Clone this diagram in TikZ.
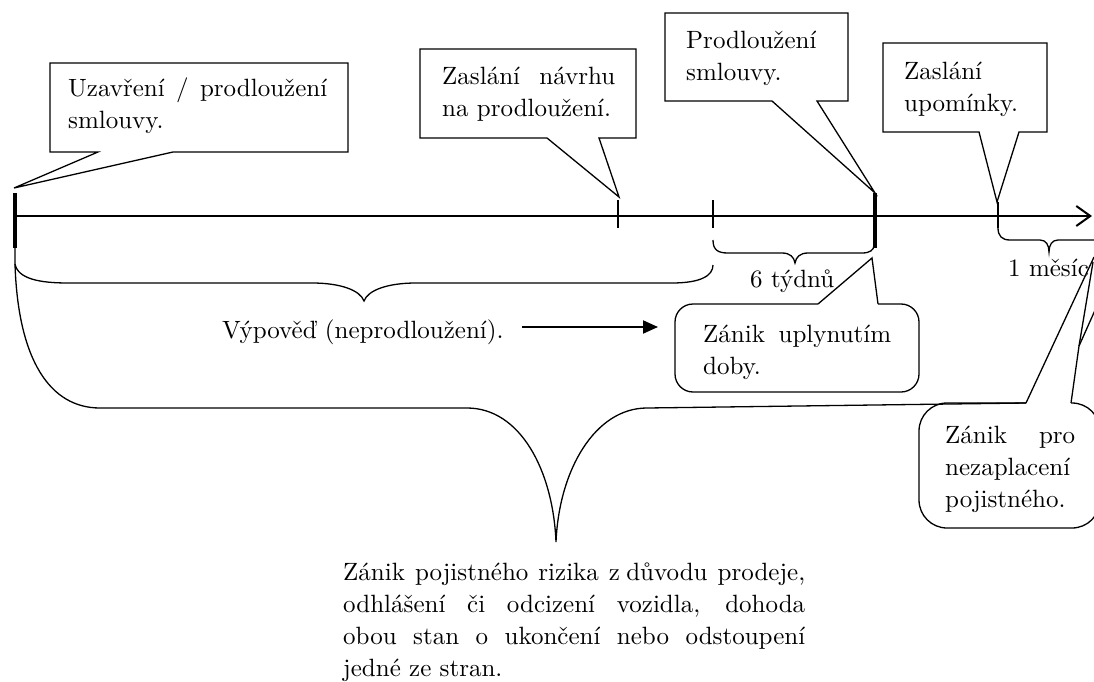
\documentclass[tikz,border=0pt]{standalone}
\usepackage{fontspec}
\setmainfont{lmroman10-regular}[Extension=.otf]
\usetikzlibrary{arrows.meta}
\hyphenpenalty=10000
\exhyphenpenalty=10000
\tolerance=9999
\emergencystretch=40pt
\hbadness=10000
\begin{document}
\begin{tikzpicture}[x=1pt,y=-1pt,
  txtfont/.style={font=\fontsize{25}{32}\selectfont},
  jtxt/.style={txtfont, anchor=base west, inner sep=0pt, align=justify},
  ptxt/.style={txtfont, anchor=base west, inner sep=0pt},
  callout/.style={draw=black, line width=1.3pt, line join=miter},
  brace/.style={draw=black, line width=1.3pt},
  thicktick/.style={line width=3.5pt},
  thintick/.style={line width=1.5pt},
  timeline/.style={line width=2pt, -{Straight Barb[length=14pt,width=20pt]}},
  arr/.style={line width=2pt, -{Triangle[length=15pt,width=13pt]}}
]
\useasboundingbox (0,0) rectangle (1094,682);
\clip (0,0) rectangle (1094,682);

% timeline
\coordinate (tlStart) at (15,216);
\coordinate (tlEnd) at (1092,216);
\draw[timeline] (tlStart) -- (tlEnd);
\draw[thicktick] (15,193) -- (15,248);
\draw[thicktick] (875,193) -- (875,248);
\draw[thintick] (618,200) -- (618,228);
\draw[thintick] (713,200) -- (713,228);
\draw[thintick] (998,202) -- (998,228);

% callout outlines (rectangular)
\draw[callout] (50,63) -- (348,63) -- (348,152) -- (173,152) -- (14,188) -- (98,152) -- (50,152) -- cycle;
\draw[callout] (420,49) -- (636,49) -- (636,138) -- (599,138) -- (619,197) -- (547,138) -- (420,138) -- cycle;
\draw[callout] (665,13) -- (848,13) -- (848,101) -- (817,101) -- (875,193) -- (772,101) -- (665,101) -- cycle;
\draw[callout] (883,43) -- (1047,43) -- (1047,132) -- (1019,132) -- (997,202) -- (979,132) -- (883,132) -- cycle;

% rounded callout: Zanik uplynutim doby
\draw[callout, rounded corners=18pt] (878,304) -- (919,304) -- (919,392) -- (675,392) -- (675,304) -- (818,304);
\draw[callout] (818,304) -- (872,258) -- (878,304);

% rounded callout: Zanik pro nezaplaceni
\draw[callout, rounded corners=28pt] (1026,403) -- (919,403) -- (919,528) -- (1100,528) -- (1100,403) -- (1071,403);
\draw[callout] (1026,403) -- (1094,257);
\draw[callout] (1071,403) -- (1079,346) -- (1093,262);
\draw[callout] (1079,346) -- (1096,308);

% braces
\draw[brace] (15,248) -- (15,264) .. controls (18,279) and (40,283) .. (68,283) -- (312,283)
  .. controls (340,283) and (360,290) .. (364,301) .. controls (368,290) and (388,283) .. (416,283)
  -- (672,283) .. controls (700,283) and (713,276) .. (713,265);
\draw[brace] (15,264) .. controls (18,360) and (50,408) .. (100,408) -- (467,408)
  .. controls (520,408) and (553,470) .. (556,542) .. controls (559,470) and (595,408) .. (647,408)
  -- (1026,403);
\draw[brace] (713,240) .. controls (713,250) and (718,253) .. (728,253) -- (782,253)
  .. controls (790,253) and (794,257) .. (795,263) .. controls (796,257) and (800,253) .. (808,253)
  -- (862,253) .. controls (870,253) and (874,250) .. (874,245);
\draw[brace] (998,228) .. controls (998,236) and (1002,240) .. (1010,240) -- (1040,240)
  .. controls (1046,240) and (1049,245) .. (1049,252) .. controls (1049,245) and (1052,240) .. (1058,240)
  -- (1100,240);

% texts
\node[jtxt, text width=259pt] (t1) at (68,97) {Uzavření / prodloužení\linebreak smlouvy.};
\node[jtxt, text width=173pt] (t2) at (442,85) {Zaslání návrhu\linebreak na prodloužení.};
\node[jtxt, text width=140pt] (t3) at (686,49) {Prodloužení\\smlouvy.};
\node[jtxt, text width=130pt] (t4) at (904,80) {Zaslání\\upomínky.};
\node[jtxt, text width=188pt] (t5) at (703,342) {Zánik uplynutím\linebreak doby.};
\node[jtxt, text width=130pt] (t6) at (945,443) {Zánik pro\linebreak nezaplacení\\pojistného.};
\node[jtxt, text width=462pt] (t7) at (343,580) {Zánik pojistného rizika z\kern.25em důvodu prodeje,\linebreak odhlášení či odcizení vozidla, dohoda\linebreak obou stan o ukončení nebo odstoupení\linebreak jedné ze stran.};
\node[ptxt] (t8) at (222,338) {Výpověď (neprodloužení).};
\node[ptxt] (t9) at (750,287) {6 týdnů};
\node[ptxt] (t10) at (1008,276) {1 měsíc};

% arrow from Vypoved to Zanik uplynutim doby
\coordinate (arrEnd) at (658,327);
\draw[arr] ([xshift=18pt]t8.east |- arrEnd) -- (arrEnd);
\end{tikzpicture}
\end{document}
